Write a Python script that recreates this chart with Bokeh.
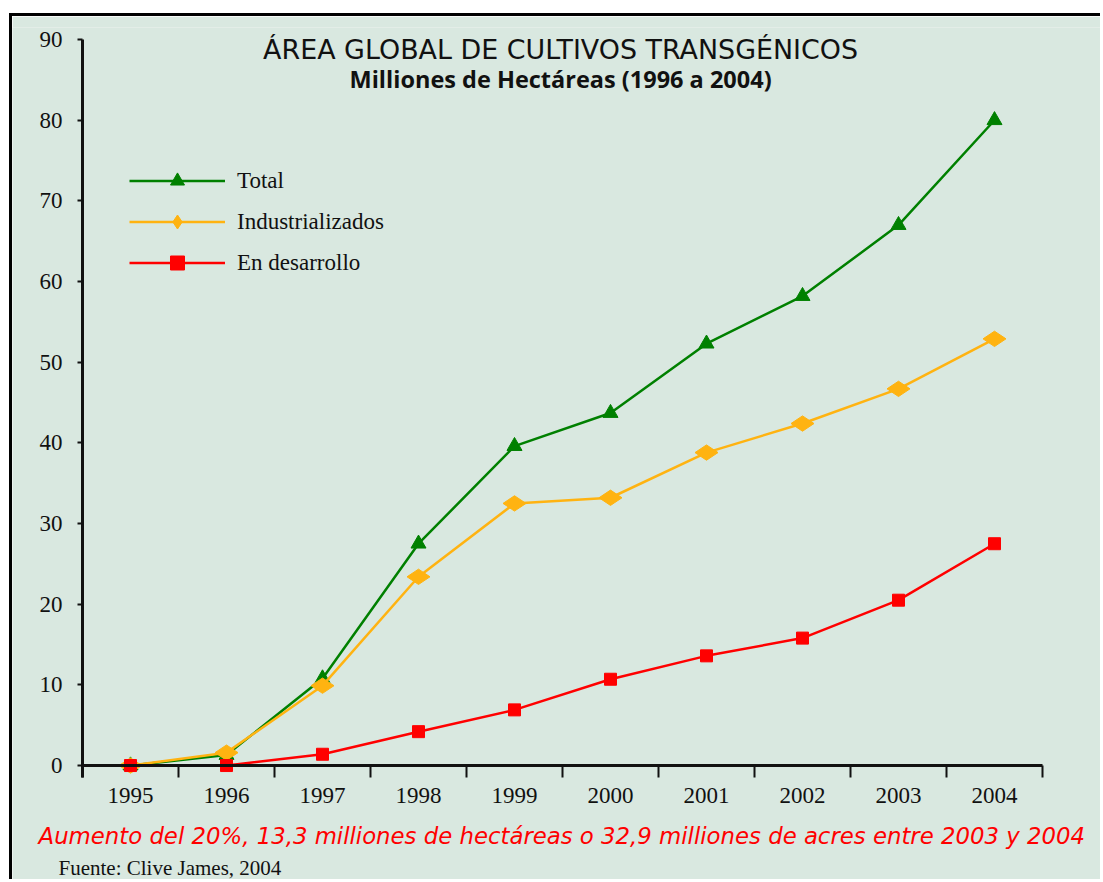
from bokeh.plotting import figure
from bokeh.models import Range1d, FixedTicker, Legend, LegendItem, Label
from bokeh.embed import file_html
from bokeh.resources import INLINE
from math import pi

# ---- data (millions of hectares) ----
years = [1995, 1996, 1997, 1998, 1999, 2000, 2001, 2002, 2003, 2004]
total = [0.0, 1.3, 10.8, 27.5, 39.6, 43.7, 52.3, 58.2, 67.0, 80.0]
industrializados = [0.0, 1.6, 9.9, 23.4, 32.5, 33.2, 38.8, 42.4, 46.7, 52.9]
desarrollo = [0.0, 0.0, 1.4, 4.2, 6.9, 10.7, 13.6, 15.8, 20.5, 27.5]
y_ticks = [0, 10, 20, 30, 40, 50, 60, 70, 80, 90]
series_names = ["Total", "Industrializados", "En desarrollo"]

title_text = "ÁREA GLOBAL DE CULTIVOS TRANSGÉNICOS"
subtitle_text = "Milliones de Hectáreas (1996 a 2004)"
note_text = "Aumento del 20%, 13,3 milliones de hectáreas o 32,9 milliones de acres entre 2003 y 2004"
source_text = "Fuente: Clive James, 2004"

BG = "#d9e8e0"
GREEN = "#008000"
ORANGE = "#ffb311"
RED = "#ff0000"
INK = "#111111"
SERIF = "Liberation Serif"
SANS = "Open Sans"
WIDE = "DejaVu Sans"

x_lo, x_hi = years[0] - 0.5, years[-1] + 0.5   # axis extent
PX_PER_YEAR = 96.0
x_start = x_lo - 70 / PX_PER_YEAR               # frame fills the whole canvas width
x_end = x_lo + 1021 / PX_PER_YEAR

p = figure(
    width=1091, height=866,
    x_range=Range1d(x_start, x_end), y_range=Range1d(-14.5, 91.5),
    output_backend="svg", toolbar_location=None,
    min_border_left=0, min_border_right=0, min_border_top=11, min_border_bottom=0,
    background_fill_color=BG, border_fill_color=BG,
    outline_line_color=None,
)
p.styles = {
    "border-left": "3px solid #000",
    "border-top": "3px solid #000",
    "margin": "13px 0px 0px 9px",
}
p.grid.visible = False

# x axis drawn on the zero line, ticks between the years
xa = p.xaxis[0]
xa.fixed_location = 0
xa.bounds = (x_lo, x_hi)
xa.ticker = FixedTicker(ticks=years, minor_ticks=[y - 0.5 for y in years] + [x_hi])
xa.axis_line_color = INK
xa.axis_line_width = 3
xa.major_tick_line_color = None
xa.major_tick_out = 12
xa.major_tick_in = 0
xa.minor_tick_out = 12
xa.minor_tick_in = 0
xa.minor_tick_line_width = 2
xa.minor_tick_line_color = INK
xa.major_label_standoff = 10
xa.major_label_text_font = SERIF
xa.major_label_text_font_size = "23px"
xa.major_label_text_color = INK

# y axis
ya = p.yaxis[0]
ya.fixed_location = x_lo
ya.ticker = FixedTicker(ticks=y_ticks, minor_ticks=[])
ya.bounds = (-1.5, y_ticks[-1])
ya.major_tick_out = 5
ya.major_tick_in = 0
ya.major_tick_line_width = 2
ya.major_tick_line_color = INK
ya.axis_line_width = 3
ya.axis_line_color = INK
ya.major_label_standoff = 15
ya.major_label_text_font = SERIF
ya.major_label_text_font_size = "23px"
ya.major_label_text_color = INK

# series
l1 = p.line(years, total, line_color=GREEN, line_width=2.5)
m1 = p.scatter(years, total, marker="triangle", size=15, fill_color=GREEN, line_color=GREEN)
l2 = p.line(years, industrializados, line_color=ORANGE, line_width=2.5)
m2 = p.scatter(years, industrializados, marker="diamond", size=23, angle=pi / 2,
               fill_color=ORANGE, line_color=ORANGE)
l3 = p.line(years, desarrollo, line_color=RED, line_width=2.5)
m3 = p.scatter(years, desarrollo, marker="square", size=12, fill_color=RED, line_color=RED)

legend = Legend(
    items=[
        LegendItem(label=series_names[0], renderers=[l1, m1]),
        LegendItem(label=series_names[1], renderers=[l2, m2]),
        LegendItem(label=series_names[2], renderers=[l3, m3]),
    ],
    location=(117, 599), orientation="vertical",
    glyph_width=96, glyph_height=35, label_height=41, spacing=0,
    padding=0, margin=0, label_standoff=12,
    border_line_color=None, background_fill_alpha=0,
    label_text_font=SERIF, label_text_font_size="23px", label_text_color=INK,
)
p.add_layout(legend)

p.add_layout(Label(x=1999.48, y=88.8, text=title_text, text_align="center",
                   text_baseline="alphabetic", text_font=WIDE, text_font_size="26.9px",
                   text_color=INK))
p.add_layout(Label(x=1999.48, y=85.08, text=subtitle_text, text_align="center",
                   text_baseline="alphabetic", text_font=SANS, text_font_size="23.5px",
                   text_font_style="bold", text_color=INK))
p.add_layout(Label(x=1994.042, y=-8.75, text=note_text, text_align="left",
                   text_baseline="alphabetic", text_font=WIDE, text_font_size="22.8px",
                   text_font_style="italic", text_color=RED))
p.add_layout(Label(x=1994.25, y=-12.75, text=source_text, text_align="left",
                   text_baseline="alphabetic", text_font=SERIF, text_font_size="21px",
                   text_color=INK))

open("out.html", "w").write(file_html(p, INLINE))
